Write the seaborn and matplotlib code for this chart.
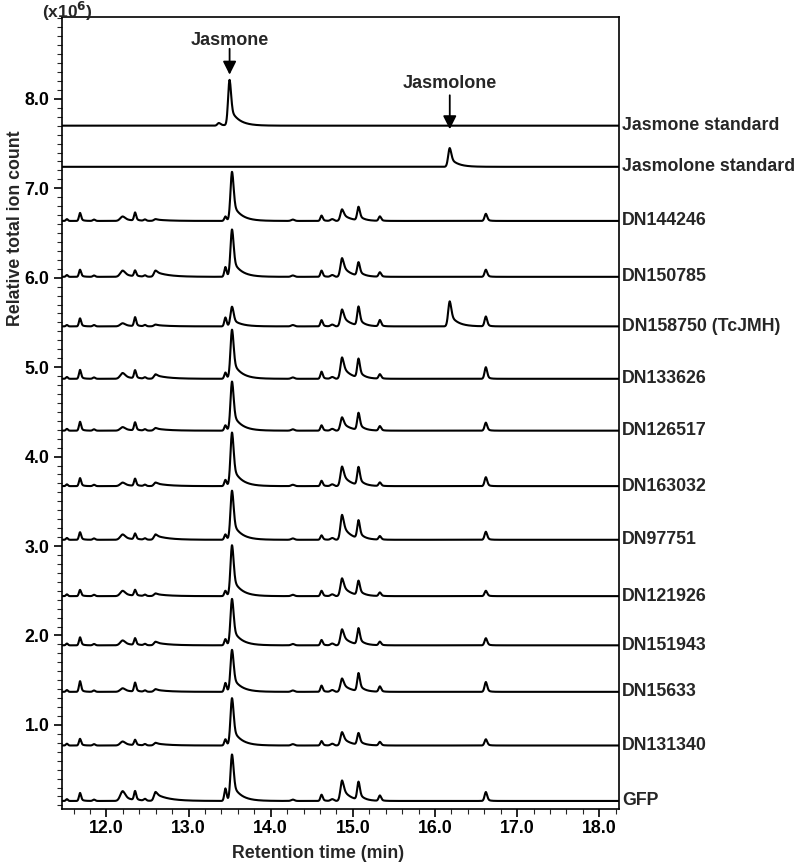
import numpy as np
import pandas as pd
import matplotlib
matplotlib.use("Agg")
import matplotlib.pyplot as plt
import matplotlib.transforms as mtransforms
from matplotlib.ticker import MultipleLocator, FormatStrFormatter
import seaborn as sns

# ---------------- data ----------------
samples = ["DN144246", "DN150785", "DN158750 (TcJMH)", "DN133626", "DN126517",
           "DN163032", "DN97751", "DN121926", "DN151943", "DN15633", "DN131340", "GFP"]
baselines = [6.635, 6.01, 5.456, 4.87, 4.29, 3.67, 3.07, 2.44, 1.89, 1.37, 0.77, 0.15]

# retention times (min) of the peaks seen in the sample traces
peak_rt = [11.52, 11.68, 11.85, 12.20, 12.35, 12.47, 12.60, 13.45, 13.53, 14.27,
           14.62, 14.75, 14.87, 15.07, 15.33, 16.18, 16.62]
# peak heights (x10^6) per sample, one list per peak
h_1152 = [0.02, 0.02, 0.015, 0.02, 0.02, 0.02, 0.02, 0.02, 0.02, 0.02, 0.02, 0.02]
h_1168 = [0.09, 0.08, 0.09, 0.10, 0.10, 0.09, 0.085, 0.07, 0.09, 0.12, 0.075, 0.09]
h_1185 = [0.015, 0.015, 0.015, 0.015, 0.015, 0.015, 0.015, 0.015, 0.015, 0.015, 0.015, 0.015]
h_1220 = [0.05, 0.07, 0.035, 0.065, 0.04, 0.04, 0.06, 0.06, 0.055, 0.04, 0.045, 0.11]
h_1235 = [0.09, 0.065, 0.10, 0.09, 0.09, 0.08, 0.065, 0.065, 0.075, 0.10, 0.06, 0.10]
h_1247 = [0.015, 0.015, 0.015, 0.015, 0.015, 0.015, 0.015, 0.015, 0.015, 0.015, 0.015, 0.02]
h_1260 = [0.02, 0.07, 0.02, 0.05, 0.03, 0.04, 0.06, 0.03, 0.04, 0.03, 0.03, 0.10]
h_1345 = [0.05, 0.11, 0.10, 0.07, 0.06, 0.07, 0.06, 0.06, 0.07, 0.10, 0.07, 0.14]
h_1353 = [0.55, 0.53, 0.22, 0.55, 0.55, 0.60, 0.55, 0.57, 0.52, 0.47, 0.53, 0.52]
h_1427 = [0.015, 0.015, 0.015, 0.015, 0.015, 0.015, 0.015, 0.015, 0.015, 0.015, 0.015, 0.015]
h_1462 = [0.06, 0.07, 0.07, 0.08, 0.06, 0.06, 0.05, 0.06, 0.06, 0.07, 0.05, 0.07]
h_1475 = [0.02, 0.02, 0.02, 0.02, 0.02, 0.02, 0.02, 0.02, 0.02, 0.02, 0.02, 0.02]
h_1487 = [0.13, 0.21, 0.19, 0.24, 0.15, 0.22, 0.28, 0.20, 0.18, 0.15, 0.15, 0.23]
h_1507 = [0.15, 0.15, 0.21, 0.21, 0.19, 0.20, 0.20, 0.16, 0.18, 0.20, 0.13, 0.20]
h_1533 = [0.05, 0.05, 0.07, 0.05, 0.05, 0.04, 0.04, 0.04, 0.04, 0.06, 0.04, 0.06]
h_1618 = [0.0, 0.0, 0.28, 0.0, 0.0, 0.0, 0.0, 0.0, 0.0, 0.0, 0.0, 0.0]
h_1662 = [0.08, 0.08, 0.11, 0.13, 0.09, 0.10, 0.09, 0.06, 0.08, 0.11, 0.07, 0.10]

# standards
standards = ["Jasmone standard", "Jasmolone standard"]
std_baselines = [7.70, 7.24]
jasmone_std_rt = [13.37, 13.50]
jasmone_std_h = [0.03, 0.51]
jasmolone_std_rt = [16.18]
jasmolone_std_h = [0.21]

# peak shape styles (rise width, tail fraction, tail length) per sample peak
shape_sigma = [0.012, 0.013, 0.015, 0.030, 0.013, 0.015, 0.020, 0.014, 0.019, 0.020,
               0.014, 0.020, 0.020, 0.016, 0.015, 0.019, 0.016]
shape_frac = [0.0, 0.3, 0.0, 0.5, 0.3, 0.0, 0.8, 0.2, 0.38, 0.0,
              0.3, 0.0, 0.65, 0.4, 0.3, 0.5, 0.3]
shape_tau = [0.01, 0.03, 0.01, 0.10, 0.03, 0.01, 0.15, 0.02, 0.10, 0.01,
             0.03, 0.01, 0.09, 0.06, 0.03, 0.09, 0.03]

x_min, x_max = 11.46, 18.24
y_min, y_max = 0.06, 8.915

# ---------------- build traces ----------------
t = np.linspace(x_min, x_max, 2400)


def peak(tt, c, h, s, f, tau):
    d = tt - c
    g = np.exp(-0.5 * (d / s) ** 2)
    tail = np.exp(-np.clip(d, 0, None) / tau)
    return h * np.where(d < 0, g, (1 - f) * g + f * tail)


height_table = [h_1152, h_1168, h_1185, h_1220, h_1235, h_1247, h_1260, h_1345, h_1353,
                h_1427, h_1462, h_1475, h_1487, h_1507, h_1533, h_1618, h_1662]

frames = []
for si, name in enumerate(samples):
    y = np.full_like(t, baselines[si])
    for pi, rt in enumerate(peak_rt):
        y += peak(t, rt, height_table[pi][si], shape_sigma[pi], shape_frac[pi], shape_tau[pi])
    frames.append(pd.DataFrame({"time": t, "signal": y, "trace": name}))

y = np.full_like(t, std_baselines[0])
for rt, h in zip(jasmone_std_rt, jasmone_std_h):
    y += peak(t, rt, h, 0.018, 0.4, 0.10)
frames.append(pd.DataFrame({"time": t, "signal": y, "trace": standards[0]}))
y = np.full_like(t, std_baselines[1])
for rt, h in zip(jasmolone_std_rt, jasmolone_std_h):
    y += peak(t, rt, h, 0.019, 0.5, 0.09)
frames.append(pd.DataFrame({"time": t, "signal": y, "trace": standards[1]}))

df = pd.concat(frames, ignore_index=True)

# ---------------- plot ----------------
sns.set_style("ticks")
plt.rcParams["font.family"] = ["Liberation Sans", "DejaVu Sans"]
plt.rcParams["font.weight"] = "bold"
plt.rcParams["axes.linewidth"] = 1.2

fig = plt.figure(figsize=(8.0, 8.65), dpi=100)
ax = fig.add_axes([62 / 800, 1 - 809 / 865, (619 - 62) / 800, (809 - 17) / 865])

sns.lineplot(data=df, x="time", y="signal", units="trace", estimator=None,
             color="black", linewidth=1.5, sort=False, ax=ax, legend=False)

ax.set_xlim(x_min, x_max)
ax.set_ylim(y_min, y_max)
for s in ax.spines.values():
    s.set_visible(True)
    s.set_linewidth(1.2)
    s.set_color("black")

ax.xaxis.set_major_locator(MultipleLocator(1.0))
ax.xaxis.set_minor_locator(MultipleLocator(0.2))
ax.yaxis.set_major_locator(MultipleLocator(1.0))
ax.yaxis.set_minor_locator(MultipleLocator(0.1))
ax.xaxis.set_major_formatter(FormatStrFormatter("%.1f"))
ax.yaxis.set_major_formatter(FormatStrFormatter("%.1f"))
ax.tick_params(axis="both", which="major", length=6, width=1.2, labelsize=12.8,
               direction="out", colors="black")
ax.tick_params(axis="both", which="minor", length=3.5, width=0.8, direction="out")
ax.tick_params(axis="x", which="major", pad=2)
ax.tick_params(axis="y", which="major", pad=3)
for lab in ax.get_xticklabels() + ax.get_yticklabels():
    lab.set_fontweight("bold")
ax.set_yticks([v for v in np.arange(1.0, 8.01, 1.0)])

ax.set_xlabel("Retention time (min)", fontsize=12.8, fontweight="bold")
ax.xaxis.set_label_coords((318 - 62) / (619 - 62), -0.045)
ax.set_ylabel("Relative total ion count", fontsize=12.8, fontweight="bold")
ax.yaxis.set_label_coords(-(62 - 24) / (619 - 62), (809 - 228) / (809 - 17))

fig.text(67 / 800, 1 - 11 / 865, r"(x10$^{\mathbf{6}}$)", fontsize=12.5, fontweight="bold",
         ha="center", va="center")

# trace labels on the right
trans = mtransforms.blended_transform_factory(ax.transAxes, ax.transData)
for name, b in zip(standards + samples, std_baselines + baselines):
    ax.text(1.006, b, name, transform=trans, ha="left", va="center",
            fontsize=12.8, fontweight="bold", clip_on=False)

# peak annotations
ax.annotate("", xy=(13.50, 8.27), xytext=(13.50, 8.56),
            arrowprops=dict(arrowstyle="-|>,head_length=0.8,head_width=0.4",
                            color="black", lw=1.3, shrinkA=0, shrinkB=0))
ax.text(13.50, 8.65, "Jasmone", ha="center", va="center", fontsize=13, fontweight="bold")
ax.annotate("", xy=(16.18, 7.66), xytext=(16.18, 8.04),
            arrowprops=dict(arrowstyle="-|>,head_length=0.8,head_width=0.4",
                            color="black", lw=1.3, shrinkA=0, shrinkB=0))
ax.text(16.18, 8.17, "Jasmolone", ha="center", va="center", fontsize=13, fontweight="bold")

fig.savefig("out.png", dpi=100)
